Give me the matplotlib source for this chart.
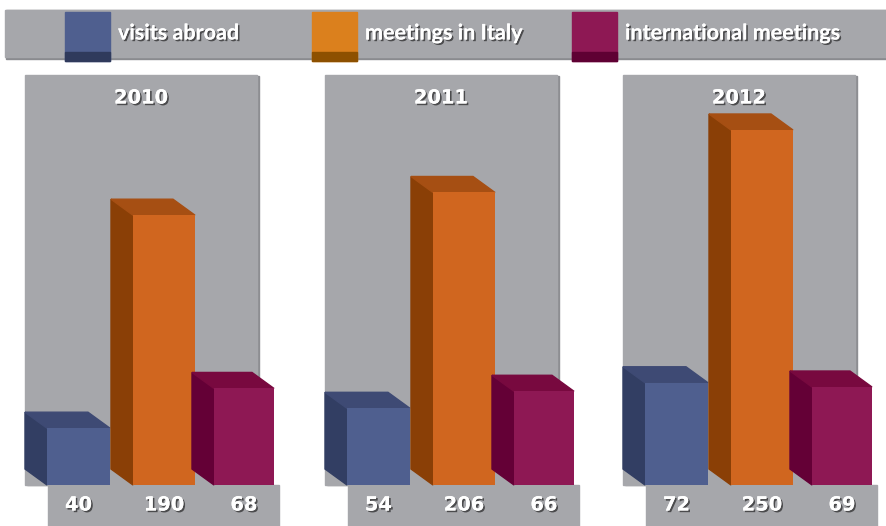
import matplotlib.pyplot as plt
from matplotlib.patches import Rectangle, Polygon
import matplotlib.patheffects as pe

# data
years = ['2010', '2011', '2012']
series = ['visits abroad', 'meetings in Italy', 'international meetings']
visits_abroad = [40, 54, 72]
meetings_italy = [190, 206, 250]
intl_meetings = [68, 66, 69]

# colours: front, side, top
front = ['#4f5f8f', '#d0661f', '#8e1854']
side = ['#323e63', '#8a3f06', '#640036']
top = ['#3e4a74', '#a64f13', '#78093f']
legend_front = ['#4f5f8f', '#db801d', '#8e1854']
legend_base = ['#2f3a5c', '#8d5000', '#5f0033']
gray = '#a6a7ab'

W, H = 887, 526
S = 1.42          # px per unit
BASE = 485        # px row of the bar base


def yv(px):
    # pixel row -> value units
    return (BASE - px) / S


fig = plt.figure(figsize=(W / 100, H / 100), dpi=100)
ax = fig.add_axes([0, 0, 1, 1])
ax.set_xlim(0, W)
ax.set_ylim(yv(H), yv(0))
ax.axis('off')

shadow = [pe.withSimplePatchShadow(offset=(1.2, -1.2), shadow_rgbFace='k', alpha=0.55), pe.Normal()]

# legend bar
ax.add_patch(Rectangle((6, yv(59)), W, yv(10) - yv(59), color='#8a8b8f', zorder=1))
ax.add_patch(Rectangle((5, yv(57)), W, yv(10) - yv(57), color=gray, zorder=2))
leg_x = [65, 312, 572]
for i, name in enumerate(series):
    x = leg_x[i]
    ax.add_patch(Rectangle((x, yv(61)), 45, yv(12) - yv(61), color=legend_front[i], zorder=3))
    ax.add_patch(Rectangle((x, yv(61)), 45, yv(52) - yv(61), color=legend_base[i], zorder=4))
    ax.text(x + 53, yv(33), name, color='white', fontsize=15.5, family='Lato',
            weight='bold', va='center', ha='left', zorder=5, path_effects=shadow)

group_left = [47, 347, 645]
offsets = [0, 86, 167]
widths = [63, 62, 60]
DX = 22
DY = 16 / S

values = [visits_abroad, meetings_italy, intl_meetings]

for g, year in enumerate(years):
    gl = group_left[g]
    # panel
    ax.add_patch(Rectangle((gl - 22 + 2, 0), 232, yv(76), color='#8d8e92', zorder=1))
    ax.add_patch(Rectangle((gl - 22, 0), 232, yv(75), color=gray, zorder=2))
    ax.text(gl + 94, yv(98), year, color='white', fontsize=14, weight='bold',
            family='DejaVu Sans', ha='center', va='center', zorder=3, path_effects=shadow)
    # value box
    ax.add_patch(Rectangle((gl + 1, yv(H + 5)), 231, yv(BASE) - yv(H + 5), color=gray, zorder=2))

    for i in range(3):
        v = values[i][g]
        x0 = gl + offsets[i]
        w = widths[i]
        z = 10 + i * 3
        ax.add_patch(Polygon([(x0, 0), (x0 - DX, DY), (x0 - DX, v + DY), (x0, v)],
                             closed=True, color=side[i], zorder=z))
        ax.add_patch(Polygon([(x0, v), (x0 - DX, v + DY), (x0 + w - DX, v + DY), (x0 + w, v)],
                             closed=True, color=top[i], zorder=z + 1))
        ax.bar(x0, v, width=w, align='edge', color=front[i], zorder=z + 2)
        ax.text(x0 + w / 2, yv(505), str(v), color='white', fontsize=14, weight='bold',
                family='DejaVu Sans', ha='center', va='center', zorder=20, path_effects=shadow)

fig.savefig('out.png', dpi=100, facecolor='white')
